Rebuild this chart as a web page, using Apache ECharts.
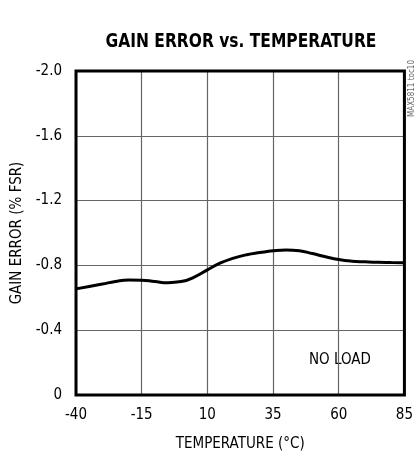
<!DOCTYPE html>
<html>
<head>
<meta charset="utf-8">
<script src="https://cdn.jsdelivr.net/npm/echarts@6/dist/echarts.min.js"></script>
<style>html,body{margin:0;padding:0;background:#fff}#c{width:416px;height:460px}</style>
</head>
<body>
<div id="c"></div>
<script>
var temps = [-40,-35,-30,-25,-20,-15,-10,-5,0,5,10,15,20,25,30,35,40,45,50,55,60,65,70,75,80,85];
var gainError = [-0.655,-0.670,-0.685,-0.701,-0.710,-0.709,-0.700,-0.693,-0.700,-0.728,-0.772,-0.815,-0.845,-0.866,-0.879,-0.890,-0.895,-0.890,-0.873,-0.853,-0.836,-0.826,-0.822,-0.819,-0.818,-0.817];
var xTicks = [-40,-15,10,35,60,85];
var yTicks = [0,-0.4,-0.8,-1.2,-1.6,-2.0];
var X0 = -40; // shift so that the tick interval starts at a multiple of 25

var FONT = '"DejaVu Sans Condensed","Liberation Sans Narrow",sans-serif';
var chart = echarts.init(document.getElementById('c'));
chart.setOption({
  animation: false,
  backgroundColor: '#fff',
  grid: {left: 76, right: 11, top: 71, bottom: 65, show: true, borderColor: '#000', borderWidth: 3, z: 5},
  xAxis: {
    type: 'value', min: 0, max: 125, interval: 25,
    name: 'TEMPERATURE (°C)', nameLocation: 'middle', nameGap: 42,
    nameTextStyle: {fontFamily: FONT, fontSize: 15, color: '#000'},
    axisLine: {show: false}, axisTick: {show: false},
    axisLabel: {margin: 13, fontFamily: FONT, fontSize: 15, color: '#000',
      formatter: function (v) { return String(v + X0); }},
    splitLine: {show: true, lineStyle: {color: '#666', width: 1.2}}
  },
  yAxis: {
    type: 'value', min: -2, max: 0, interval: 0.4, inverse: true,
    name: 'GAIN ERROR (% FSR)', nameLocation: 'middle', nameGap: 42,
    nameTextStyle: {fontFamily: FONT, fontSize: 15, color: '#000'},
    axisLine: {show: false}, axisTick: {show: false},
    axisLabel: {margin: 14, fontFamily: FONT, fontSize: 15, color: '#000',
      formatter: function (v) { return Math.abs(v) < 1e-9 ? '0' : v.toFixed(1); }},
    splitLine: {show: true, lineStyle: {color: '#666', width: 1.2}}
  },
  series: [{
    type: 'line', smooth: 0.5, symbol: 'none',
    data: temps.map(function (t, i) { return [t - X0, gainError[i]]; }),
    lineStyle: {color: '#000', width: 3}
  }],
  graphic: [
    {type: 'text', x: 241, y: 42, scaleX: 0.86,
      style: {text: 'GAIN ERROR vs. TEMPERATURE', font: 'bold 20px ' + FONT, fill: '#000', align: 'center', verticalAlign: 'middle'}},
    {type: 'text', x: 340, y: 360,
      style: {text: 'NO LOAD', font: '15px ' + FONT, fill: '#000', align: 'center', verticalAlign: 'middle'}},
    {type: 'text', x: 408, y: 117, rotation: Math.PI / 2,
      style: {text: 'MAX5811 toc10', font: '8px ' + FONT, fill: '#666'}}
  ]
});
</script>
</body>
</html>
